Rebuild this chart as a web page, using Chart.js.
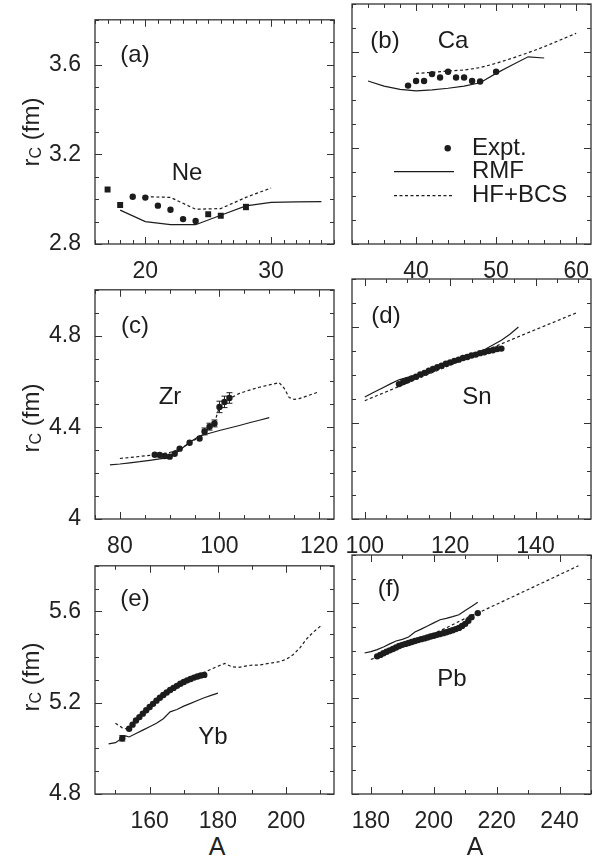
<!DOCTYPE html>
<html>
<head>
<meta charset="utf-8">
<script src="https://cdn.jsdelivr.net/npm/chart.js@4.4.1/dist/chart.umd.min.js"></script>
<style>
  html, body { margin: 0; padding: 0; background: #fff; }
  body { width: 607px; height: 860px; position: relative; overflow: hidden;
         font-family: "Liberation Sans", Arial, sans-serif; color: #222; }
  canvas { position: absolute; }
  .ytitle { position: absolute; font-size: 24px; white-space: nowrap;
            transform: translate(-50%, -50%) rotate(-90deg); }
  .ytitle sub { font-size: 16px; vertical-align: -2px; }
  .xtitle { position: absolute; font-size: 25px; transform: translate(-50%, -50%); }
</style>
</head>
<body>
<canvas id="pa"></canvas>
<canvas id="pb"></canvas>
<canvas id="pc"></canvas>
<canvas id="pd"></canvas>
<canvas id="pe"></canvas>
<canvas id="pf"></canvas>
<div class="ytitle" style="left:31px;top:132px">r<sub>C</sub> (fm)</div>
<div class="ytitle" style="left:31px;top:418px">r<sub>C</sub> (fm)</div>
<div class="ytitle" style="left:31px;top:677px">r<sub>C</sub> (fm)</div>
<div class="xtitle" style="left:217px;top:846px">A</div>
<div class="xtitle" style="left:475px;top:846px">A</div>
<script>
// ---- Ne (a)
var neExpA = [17, 18, 19, 20, 21, 22, 23, 24, 25, 26, 28];
var neExpR = [3.043, 2.974, 3.011, 3.007, 2.971, 2.953, 2.911, 2.903, 2.933, 2.926, 2.965];
var neExpErr = [0, 0, 0, 0, 0, 0, 0, 0, 0, 0, 0.012];
var neRmfA = [18, 20, 22, 24, 26, 28, 30, 32, 34];
var neRmfR = [2.951, 2.900, 2.886, 2.886, 2.928, 2.970, 2.986, 2.988, 2.989];
var neHfA = [20, 22, 24, 26, 28, 30];
var neHfR = [3.011, 3.008, 2.955, 2.958, 3.008, 3.050];

// ---- Ca (b)
var caExpA = [39, 40, 41, 42, 43, 44, 45, 46, 47, 48, 50];
var caExpR = [3.460, 3.479, 3.479, 3.508, 3.494, 3.518, 3.494, 3.494, 3.479, 3.477, 3.518];
var caRmfA = [34, 36, 38, 40, 42, 44, 46, 48, 50, 52, 54, 56];
var caRmfR = [3.479, 3.458, 3.444, 3.438, 3.442, 3.449, 3.458, 3.472, 3.511, 3.546, 3.580, 3.575];
var caHfA = [40, 42, 44, 46, 48, 50, 52, 54, 56, 58, 60];
var caHfR = [3.511, 3.515, 3.521, 3.525, 3.535, 3.553, 3.574, 3.597, 3.622, 3.650, 3.678];

// ---- Zr (c)
var zrExpA = [87, 88, 89, 90, 91, 92, 94, 96, 97, 98, 99, 100, 101, 102];
var zrExpR = [4.280, 4.279, 4.275, 4.272, 4.285, 4.307, 4.333, 4.351, 4.382, 4.403, 4.417, 4.489, 4.511, 4.528];
var zrExpErr = [0, 0, 0, 0, 0, 0, 0, 0, 0.015, 0.015, 0.015, 0.025, 0.025, 0.023];
var zrRmfA = [78, 80, 82, 84, 86, 88, 90, 92, 94, 96, 98, 100, 102, 104, 106, 108, 110];
var zrRmfR = [4.236, 4.240, 4.245, 4.250, 4.256, 4.262, 4.268, 4.300, 4.335, 4.362, 4.374, 4.386, 4.397, 4.408, 4.420, 4.431, 4.442];
var zrHfA = [80, 82, 84, 86, 88, 90, 92, 94, 96, 98, 99, 100, 102, 104, 106, 108, 110, 112, 113, 114, 115, 116, 118, 120];
var zrHfR = [4.264, 4.268, 4.273, 4.278, 4.283, 4.290, 4.305, 4.330, 4.360, 4.400, 4.420, 4.490, 4.525, 4.548, 4.562, 4.575, 4.585, 4.595, 4.570, 4.530, 4.522, 4.525, 4.540, 4.555];

// ---- Sn (d)
var snExpA = [108, 109, 110, 111, 112, 113, 114, 115, 116, 117, 118, 119, 120,
              121, 122, 123, 124, 125, 126, 127, 128, 129, 130, 131, 132];
var snExpR = [4.562, 4.571, 4.578, 4.586, 4.593, 4.602, 4.609, 4.618, 4.625, 4.633, 4.639, 4.647, 4.652,
              4.659, 4.664, 4.671, 4.675, 4.681, 4.685, 4.691, 4.695, 4.700, 4.703, 4.708, 4.710];
var snRmfA = [100, 102, 104, 106, 108, 110, 112, 116, 120, 124, 128, 132, 134, 136];
var snRmfR = [4.508, 4.527, 4.545, 4.563, 4.580, 4.590, 4.600, 4.625, 4.650, 4.675, 4.705, 4.745, 4.770, 4.800];
var snHfA = [100, 110, 120, 130, 140, 150];
var snHfR = [4.493, 4.567, 4.641, 4.715, 4.789, 4.862];

// ---- Yb (e)
var ybExpA = [152, 154, 155, 156, 157, 158, 159, 160, 161, 162, 163, 164, 165,
              166, 167, 168, 169, 170, 171, 172, 173, 174, 175, 176];
var ybExpR = [5.044, 5.086, 5.104, 5.122, 5.137, 5.152, 5.167, 5.181, 5.195, 5.209, 5.222, 5.234, 5.245,
              5.256, 5.265, 5.274, 5.283, 5.291, 5.298, 5.304, 5.310, 5.315, 5.319, 5.322];
var ybExpErr = [0.012];
var ybRmfA = [148, 150, 152, 153, 154, 156, 158, 160, 162, 164, 166, 168, 170, 172, 174, 176, 178, 180];
var ybRmfR = [5.020, 5.025, 5.045, 5.055, 5.050, 5.065, 5.080, 5.095, 5.110, 5.130, 5.160, 5.170, 5.185, 5.197, 5.210, 5.222, 5.232, 5.242];
var ybHfA = [150, 152, 154, 156, 158, 160, 162, 164, 166, 168, 170, 172, 174, 176, 178, 180, 182,
             184, 186, 188, 190, 192, 194, 196, 198, 200, 202, 204, 206, 208, 210];
var ybHfR = [5.110, 5.090, 5.082, 5.125, 5.155, 5.185, 5.213, 5.240, 5.263, 5.283, 5.300, 5.313, 5.323, 5.333, 5.347, 5.360, 5.372,
             5.358, 5.355, 5.360, 5.365, 5.365, 5.370, 5.375, 5.380, 5.390, 5.410, 5.440, 5.480, 5.510, 5.535];

// ---- Pb (f)
var pbExpA = [182, 183, 184, 185, 186, 187, 188, 189, 190, 191, 192, 193, 194, 195, 196, 197,
              198, 199, 200, 201, 202, 203, 204, 205, 206, 207, 208, 209, 210, 211, 212, 214];
var pbExpR = [5.376, 5.382, 5.389, 5.395, 5.401, 5.407, 5.413, 5.419, 5.424, 5.428, 5.432, 5.436, 5.440, 5.444, 5.448, 5.451,
              5.455, 5.459, 5.462, 5.466, 5.469, 5.473, 5.477, 5.481, 5.485, 5.490, 5.495, 5.503, 5.512, 5.525, 5.540, 5.557];
var pbRmfA = [178, 180, 182, 184, 186, 188, 190, 192, 194, 196, 198, 200, 202, 204, 206, 208, 210, 212, 214];
var pbRmfR = [5.390, 5.396, 5.404, 5.415, 5.428, 5.440, 5.447, 5.457, 5.478, 5.490, 5.503, 5.516, 5.529, 5.535, 5.542, 5.550, 5.568, 5.585, 5.602];
var pbHfA = [180, 186, 192, 198, 204, 208, 212, 214, 220, 226, 232, 238, 246];
var pbHfR = [5.363, 5.394, 5.427, 5.460, 5.495, 5.522, 5.547, 5.557, 5.594, 5.631, 5.668, 5.705, 5.755];

var INK = '#1c1c1c';
var FONT = '"Liberation Sans", Arial, sans-serif';

function pts(xs, ys) {
  return xs.map(function (x, i) { return { x: x, y: ys[i] }; });
}

function expt(xs, ys, err, style) {
  return {
    label: 'Expt.', data: pts(xs, ys), err: err || [], showLine: false,
    pointStyle: style || 'circle',
    pointRadius: style ? style.map(function (s) { return s === 'rect' ? 4.2 : 3.2; }) : 3.2,
    pointBackgroundColor: INK, pointBorderColor: INK, pointBorderWidth: 0
  };
}

function curve(label, xs, ys, dashed) {
  return {
    label: label, data: pts(xs, ys), showLine: true, borderColor: INK,
    borderWidth: 1.2, borderDash: dashed ? [3, 2.5] : [], pointRadius: 0, tension: 0
  };
}

// frame, inward ticks, error bars, labels
function decor(p) {
  return {
    id: 'decor',
    afterDatasetsDraw: function (chart) {
      var c = chart.ctx, xs = chart.scales.x, ys = chart.scales.y;
      c.save();
      c.strokeStyle = INK;
      c.lineWidth = 1;
      chart.data.datasets.forEach(function (ds) {
        (ds.err || []).forEach(function (e, i) {
          if (!e) return;
          var pt = ds.data[i], x = xs.getPixelForValue(pt.x);
          var y1 = ys.getPixelForValue(pt.y - e), y2 = ys.getPixelForValue(pt.y + e);
          c.beginPath();
          c.moveTo(x, y1); c.lineTo(x, y2);
          c.moveTo(x - 3, y1); c.lineTo(x + 3, y1);
          c.moveTo(x - 3, y2); c.lineTo(x + 3, y2);
          c.stroke();
        });
      });
      c.restore();
    },
    afterDraw: function (chart) {
      var c = chart.ctx, a = chart.chartArea, xs = chart.scales.x, ys = chart.scales.y;
      c.save();
      c.strokeStyle = '#333';
      c.lineWidth = 1.3;
      c.strokeRect(a.left, a.top, a.right - a.left, a.bottom - a.top);
      c.lineWidth = 1;
      function marks(scale, minor, major, horiz) {
        var i0 = Math.ceil(scale.min / minor - 1e-6), i1 = Math.floor(scale.max / minor + 1e-6);
        for (var i = i0; i <= i1; i++) {
          var v = i * minor;
          var big = Math.abs(v / major - Math.round(v / major)) < 1e-6;
          var len = big ? 7 : 4;
          var q = Math.round(scale.getPixelForValue(v)) + 0.5;
          c.beginPath();
          if (horiz) {
            c.moveTo(q, a.bottom); c.lineTo(q, a.bottom - len);
            c.moveTo(q, a.top); c.lineTo(q, a.top + len);
          } else {
            c.moveTo(a.left, q); c.lineTo(a.left + len, q);
            c.moveTo(a.right, q); c.lineTo(a.right - len, q);
          }
          c.stroke();
        }
      }
      marks(xs, p.xMinor, p.xStep, true);
      marks(ys, p.yMinor, p.yStep, false);

      c.fillStyle = INK;
      c.textBaseline = 'middle';
      c.font = '24px ' + FONT;
      (p.notes || []).forEach(function (n) {
        c.textAlign = n.left ? 'left' : 'center';
        c.fillText(n.t, a.left + n.x, a.top + n.y);
      });
      c.strokeStyle = INK;
      c.lineWidth = 1.2;
      (p.keys || []).forEach(function (k) {
        if (k.dot) {
          c.beginPath();
          c.arc(a.left + k.x, a.top + k.y, 3.2, 0, Math.PI * 2);
          c.fill();
        } else {
          c.setLineDash(k.dash ? [3, 2.5] : []);
          c.beginPath();
          c.moveTo(a.left + k.x, a.top + k.y);
          c.lineTo(a.left + k.x2, a.top + k.y);
          c.stroke();
        }
      });
      c.restore();
    }
  };
}

function panel(p) {
  var el = document.getElementById(p.id);
  var w = p.box.r + 16 - p.cx, h = p.box.b + 34 - p.cy;
  el.width = w; el.height = h;
  el.style.left = p.cx + 'px'; el.style.top = p.cy + 'px';
  el.style.width = w + 'px'; el.style.height = h + 'px';
  var tickFont = { family: FONT, size: 23 };
  var fmt = function (v) { return String(Math.round(v * 10) / 10); };
  return new Chart(el, {
    type: 'scatter',
    data: { datasets: p.sets },
    options: {
      responsive: false, animation: false, events: [],
      layout: { autoPadding: false, padding: { top: p.box.t - p.cy, right: 16, left: 0, bottom: 0 } },
      plugins: { legend: { display: false }, tooltip: { enabled: false } },
      scales: {
        x: {
          type: 'linear', min: p.xMin, max: p.xMax,
          grid: { display: false }, border: { display: false },
          ticks: { stepSize: p.xStep, includeBounds: false, color: '#222', font: tickFont,
                   padding: 6, maxRotation: 0, autoSkip: false, callback: fmt },
          afterFit: function (s) { s.height = 34; }
        },
        y: {
          type: 'linear', min: p.yMin, max: p.yMax,
          grid: { display: false }, border: { display: false },
          ticks: { display: p.yLabels, stepSize: p.yStep, includeBounds: false, color: '#222',
                   font: tickFont, padding: 6, callback: fmt },
          afterFit: function (s) { s.width = p.box.l - p.cx; }
        }
      }
    },
    plugins: [decor(p)]
  });
}

var neStyles = ['rect', 'rect', 'circle', 'circle', 'circle', 'circle', 'circle', 'circle', 'rect', 'rect', 'rect'];

panel({
  id: 'pa', cx: 0, cy: 0, box: { l: 95, t: 4, r: 334, b: 244 },
  xMin: 16, xMax: 35, xStep: 10, xMinor: 1, yMin: 2.8, yMax: 3.8, yStep: 0.4, yMinor: 0.1, yLabels: true,
  sets: [expt(neExpA, neExpR, neExpErr, neStyles), curve('RMF', neRmfA, neRmfR, false), curve('HF+BCS', neHfA, neHfR, true)],
  notes: [{ t: '(a)', x: 40, y: 36 }, { t: 'Ne', x: 92, y: 154 }]
});

panel({
  id: 'pb', cx: 320, cy: 0, box: { l: 352, t: 4, r: 591, b: 244 },
  xMin: 32, xMax: 61.85, xStep: 10, xMinor: 2, yMin: 2.8, yMax: 3.8, yStep: 0.4, yMinor: 0.1, yLabels: false,
  sets: [expt(caExpA, caExpR), curve('RMF', caRmfA, caRmfR, false), curve('HF+BCS', caHfA, caHfR, true)],
  notes: [{ t: '(b)', x: 33, y: 37 }, { t: 'Ca', x: 101, y: 37 },
          { t: 'Expt.', x: 120, y: 144, left: true }, { t: 'RMF', x: 120, y: 167.5, left: true },
          { t: 'HF+BCS', x: 120, y: 191.5, left: true }],
  keys: [{ dot: true, x: 95.7, y: 144.3 }, { x: 42, x2: 102, y: 167.7 }, { x: 42, x2: 102, y: 191.7, dash: true }]
});

panel({
  id: 'pc', cx: 0, cy: 270, box: { l: 95, t: 279, r: 334, b: 519 },
  xMin: 75, xMax: 123, xStep: 20, xMinor: 5, yMin: 4.0, yMax: 5.0, yStep: 0.4, yMinor: 0.1, yLabels: true,
  sets: [expt(zrExpA, zrExpR, zrExpErr), curve('RMF', zrRmfA, zrRmfR, false), curve('HF+BCS', zrHfA, zrHfR, true)],
  notes: [{ t: '(c)', x: 40, y: 37 }, { t: 'Zr', x: 75, y: 108 }]
});

panel({
  id: 'pd', cx: 320, cy: 270, box: { l: 352, t: 279, r: 591, b: 519 },
  xMin: 97, xMax: 153, xStep: 20, xMinor: 5, yMin: 4.0, yMax: 5.0, yStep: 0.4, yMinor: 0.1, yLabels: false,
  sets: [expt(snExpA, snExpR), curve('RMF', snRmfA, snRmfR, false), curve('HF+BCS', snHfA, snHfR, true)],
  notes: [{ t: '(d)', x: 34, y: 37 }, { t: 'Sn', x: 125, y: 118 }]
});

panel({
  id: 'pe', cx: 0, cy: 546, box: { l: 95, t: 555, r: 334, b: 794 },
  xMin: 144, xMax: 214, xStep: 20, xMinor: 10, yMin: 4.8, yMax: 5.8, yStep: 0.4, yMinor: 0.1, yLabels: true,
  sets: [expt(ybExpA, ybExpR, ybExpErr), curve('RMF', ybRmfA, ybRmfR, false), curve('HF+BCS', ybHfA, ybHfR, true)],
  notes: [{ t: '(e)', x: 40, y: 34 }, { t: 'Yb', x: 118, y: 172 }]
});

panel({
  id: 'pf', cx: 320, cy: 546, box: { l: 352, t: 555, r: 591, b: 794 },
  xMin: 174, xMax: 250, xStep: 20, xMinor: 10, yMin: 4.8, yMax: 5.8, yStep: 0.4, yMinor: 0.1, yLabels: false,
  sets: [expt(pbExpA, pbExpR), curve('RMF', pbRmfA, pbRmfR, false), curve('HF+BCS', pbHfA, pbHfR, true)],
  notes: [{ t: '(f)', x: 37, y: 34 }, { t: 'Pb', x: 100, y: 124 }]
});
</script>
</body>
</html>
